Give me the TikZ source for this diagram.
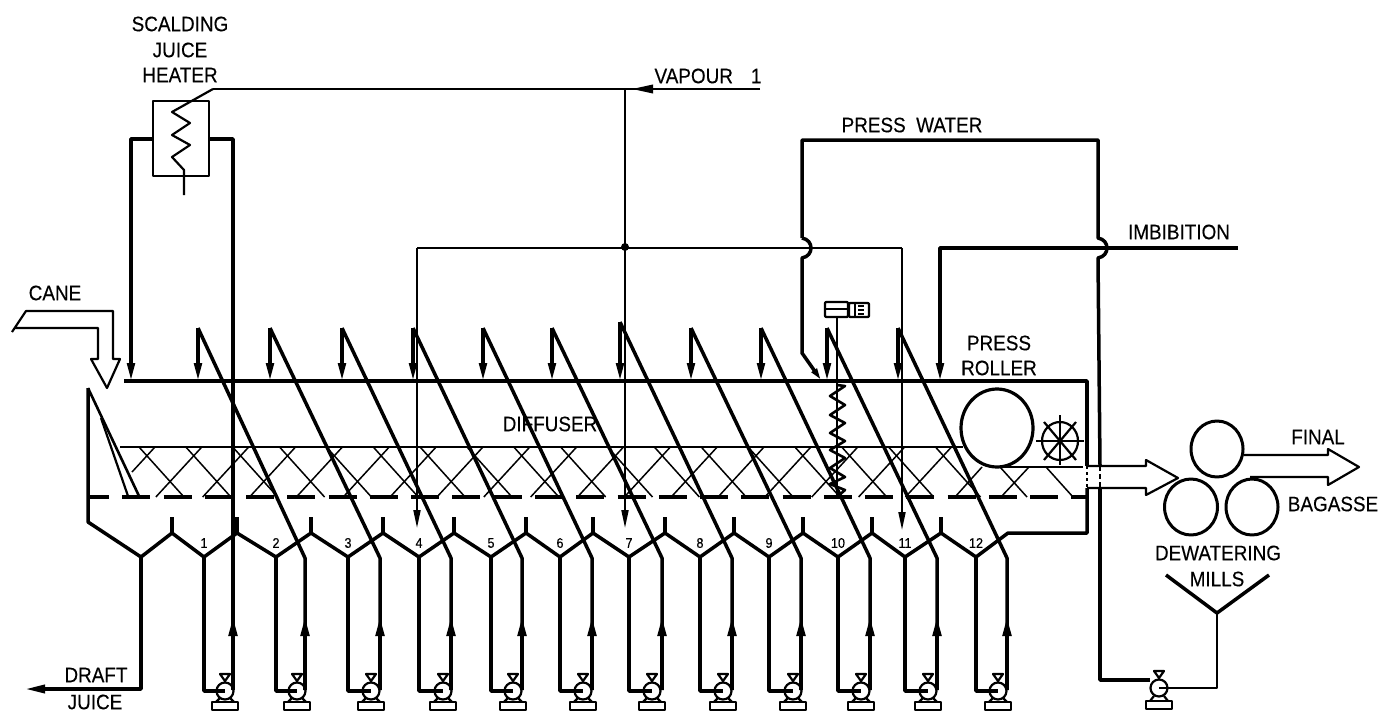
\documentclass[tikz,border=0pt]{standalone}
\usepackage{fontspec}
\setmainfont[FakeStretch=0.9,FakeBold=0.3]{Liberation Sans}
\usetikzlibrary{arrows.meta,positioning,calc}

\begin{document}
\begin{tikzpicture}[
  x=1pt,y=-1pt,
  line join=round,
  pipe/.style={line width=3.5pt},
  steam/.style={line width=1.9pt},
  mesh/.style={line width=1.5pt},
  outline/.style={line width=2.2pt},
  arr/.style={-{Triangle[length=19pt,width=8.5pt]}},
  lbl/.style={inner sep=0pt,font=\fontsize{21}{23}\selectfont},
  num/.style={inner sep=0pt,font=\fontsize{14}{15}\selectfont}
]
\useasboundingbox (0,0) rectangle (1378,712);

\node[lbl] (scalding) at (180,24) {SCALDING};
\node[lbl] (juice) at (180,50) {JUICE};
\node[lbl] (heater) at (180,75) {HEATER};
\node[lbl] (vapour) at (708,76) {VAPOUR\hspace{18pt}1};
\node[lbl] (press) at (912,125) {PRESS\ \ WATER};
\node[lbl] (imbibition) at (1179,232) {IMBIBITION};
\node[lbl] (cane) at (55,293) {CANE};
\node[lbl] (pressr) at (999,343) {PRESS};
\node[lbl] (roller) at (999,368) {ROLLER};
\node[lbl] (diffuser) at (550,424) {DIFFUSER};
\node[lbl] (final) at (1318,437) {FINAL};
\node[lbl] (bagasse) at (1333,504) {BAGASSE};
\node[lbl] (dewatering) at (1218,553) {DEWATERING};
\node[lbl] (mills) at (1217,579) {MILLS};
\node[lbl] (draft) at (96,675) {DRAFT};
\node[lbl] (juiceout) at (95,702) {JUICE};

% mesh
\draw[mesh] (120,447) -- (963,447);
\draw[mesh] (1000,467) -- (1083,467);
\draw[mesh] (155,447) -- (132,472);
\foreach \k in {1,...,17}{
  \pgfmathsetmacro{\xa}{155+46.85*\k}
  \draw[mesh] (\xa,447) -- (\xa-46,497);
}
\foreach \k in {0,...,17}{
  \pgfmathsetmacro{\xb}{139+46.85*\k}
  \draw[mesh] (\xb,447) -- (\xb+45,497);
}
\draw[mesh] (982,467) -- (955,497);
\draw[mesh] (1029,467) -- (1001,497);
\draw[mesh] (1000,467) -- (1027,497);
\draw[mesh] (1046,467) -- (1073,497);
\draw[line width=4pt,dash pattern=on 28pt off 13.27pt,dash phase=9pt] (90,497) -- (1087,497);

% diffuser shell
\draw[pipe] (88,388) -- (88,522) -- (141,557) -- (172,533) -- (204,557) -- (237,533) -- (276,557)
  -- (311,533) -- (348,557) -- (383,533) -- (419,557) -- (454,533) -- (491,557) -- (526,533)
  -- (560,557) -- (593,533) -- (629,557) -- (665,533) -- (700,557) -- (734,533) -- (769,557)
  -- (803,533) -- (838,557) -- (872,533) -- (905,557) -- (941,533) -- (976,557) -- (1008,533)
  -- (1087,533) -- (1087,488);
\draw[pipe] (1087,466) -- (1087,381) -- (124,381);
\draw[mesh,dash pattern=on 3pt off 3pt] (1087,466) -- (1087,488);
\draw[outline,line width=2.6pt] (88,388) -- (139,496);
\draw[outline] (101,418) -- (128,496);
\foreach \pk in {172,237,311,383,454,526,593,665,734,803,872,941}{
  \draw[pipe] (\pk,533) -- (\pk,517);
}

% roller and wheel
\draw[line width=3.2pt,fill=white] (997,428) ellipse [x radius=36,y radius=39];
\draw[outline] (1060,441) ellipse [x radius=18,y radius=19];
\draw[outline] (1036,441) -- (1084,441);
\draw[outline] (1060,415) -- (1060,465);
\draw[outline] (1044,422) -- (1076,460);
\draw[outline] (1076,422) -- (1044,460);

% stages
\foreach \val/\ris/\pmp/\lab in {204/233/225/1,276/305/297/2,348/380/371/3,419/451/443/4,491/522/513/5,
  560/592/583/6,629/662/652/7,700/732/723/8,769/801/793/9,838/870/861/10,905/937/928/11,976/1007/998/12}{
  \node[num] (n\lab) at (\val,543) {\lab};
  \draw[pipe] (\val,557) -- (\val,691) -- (\pmp,691);
  \draw[pipe,arr] (\ris,690) -- (\ris,617);
  \draw[outline] (\pmp,691) circle [radius=8.5];
  \draw[outline] (\pmp-5,674) -- (\pmp+5,674) -- (\pmp,681) -- cycle;
  \draw[outline] (\pmp,681) -- (\pmp,683);
  \draw[outline] (\pmp-13,702) rectangle (\pmp+13,710);
  \draw[outline] (\pmp-9,702) -- (\pmp-5,698);
  \draw[outline] (\pmp+9,702) -- (\pmp+5,698);
}
\foreach \ris/\apx/\apy in {305/198/328,380/270/328,451/342/328,522/413/328,592/483/328,662/552/328,
  732/620/322,801/691/328,870/761/328,937/827/328,1007/898/328}{
  \draw[pipe] (\ris,690) -- (\ris,558) -- (\apx,\apy);
  \draw[pipe,-{Triangle[length=18pt,width=7.5pt]}] (\apx,\apy) -- (\apx,381);
}

% heater
\draw[outline,fill=white] (153,101) rectangle (209,176);
\draw[pipe] (233,690) -- (233,139) -- (209,139);
\draw[pipe,-{Triangle[length=18pt,width=7.5pt]}] (153,139) -- (131,139) -- (131,381);
\draw[steam,line width=2.2pt] (213,89) -- (172,112) -- (190,123) -- (172,135) -- (190,145) -- (172,157)
  -- (184,170) -- (184,195);
\draw[steam] (625,89) -- (213,89);

% vapour
\draw[steam] (760,89) -- (625,89);
\draw[-{Triangle[length=21pt,width=8.5pt]},steam] (653,89) -- (632,89);
\draw[steam,-{Triangle[length=18pt,width=7pt]}] (625,89) -- (625,528);
\fill (625,247) circle [radius=4];
\draw[steam] (417,248) -- (902,248);
\draw[steam,-{Triangle[length=18pt,width=7pt]}] (417,248) -- (417,528);
\draw[steam,-{Triangle[length=18pt,width=7pt]}] (902,248) -- (902,530);

% press water
\draw[pipe] (802,238) -- (802,140) -- (1098,140) -- (1098,238)
  .. controls (1110,240) and (1110,256) .. (1098,258) -- (1100,466);
\draw[pipe,-{Triangle[length=12pt,width=6pt]}] (802,238) .. controls (814,240) and (814,256) .. (802,258)
  -- (802,353) -- (821,380);
\draw[mesh,dash pattern=on 5pt off 3pt] (1100,466) -- (1100,488);
\draw[pipe] (1100,488) -- (1100,680) -- (1150,680);

% imbibition
\draw[pipe,-{Triangle[length=18pt,width=7.5pt]}] (1238,248) -- (940,248) -- (940,381);

% bagasse out
\draw[outline] (1087,466) -- (1146,466) -- (1146,460) -- (1178,478) -- (1146,495) -- (1146,488) -- (1087,488);
\draw[line width=3pt] (1217,449) ellipse [x radius=26,y radius=28];
\draw[line width=3pt] (1191,507) ellipse [x radius=26.5,y radius=28];
\draw[line width=3pt] (1252,507) ellipse [x radius=26,y radius=28];
\draw[outline] (1244,455) -- (1328,455) -- (1328,449) -- (1359,467) -- (1328,485) -- (1328,477) -- (1250,477);

% final pump
\draw[pipe] (1166,575) -- (1217,613) -- (1269,575);
\draw[outline,line width=2.6pt] (1217,613) -- (1217,688) -- (1159,688);
\draw[outline] (1159,688) circle [radius=8.5];
\draw[outline] (1154,671) -- (1164,671) -- (1159,678) -- cycle;
\draw[outline] (1159,678) -- (1159,680);
\draw[outline] (1146,701) rectangle (1172,709);
\draw[outline] (1150,701) -- (1154,696);
\draw[outline] (1168,701) -- (1164,696);

% agitator
\draw[outline] (837,317) -- (837,497);
\draw[pipe,line width=2.6pt] (837,385) -- (845,386) -- (830,396) -- (845,405) -- (830,415) -- (845,423)
  -- (830,433) -- (845,441) -- (830,450) -- (845,458) -- (830,468) -- (845,477) -- (830,484) -- (845,490) -- (837,497);
\draw[outline,rounded corners=1pt] (825,302) rectangle (848,317);
\draw[outline] (825,309) -- (848,309);
\draw[outline,rounded corners=1pt] (849,303) rectangle (869,317);
\draw[mesh] (855,303) -- (855,317);
\draw[mesh] (858,306) -- (864,306);
\draw[mesh] (858,310) -- (864,310);
\draw[mesh] (858,314) -- (864,314);

% cane chute
\draw[outline] (12,332) -- (26,311) -- (113,311) -- (113,359) -- (120,359) -- (107,388) -- (91,359) -- (98,359) -- (98,328) -- (14,328);

% draft juice
\draw[pipe,-{Triangle[length=20pt,width=8pt]}] (141,557) -- (141,689) -- (25,689);
\end{tikzpicture}
\end{document}
